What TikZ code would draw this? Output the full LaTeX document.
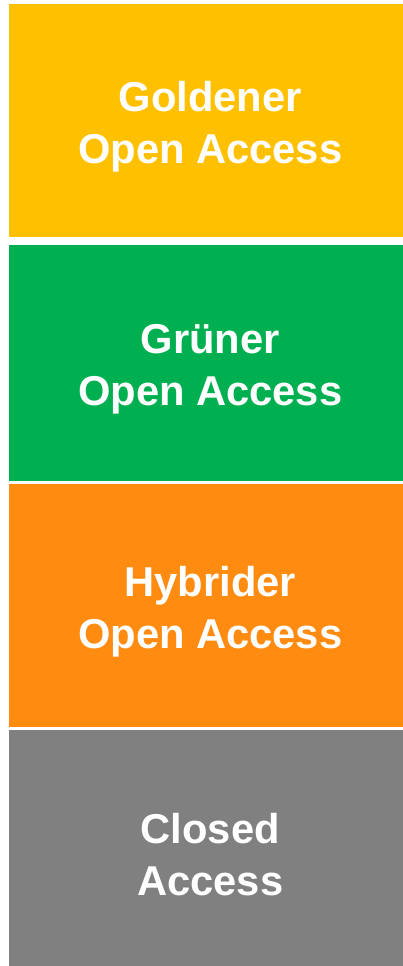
\documentclass[tikz,border=0pt]{standalone}
\usepackage{fontspec}
\setmainfont{Liberation Sans}
\definecolor{gold}{HTML}{FFC000}
\definecolor{green}{HTML}{00B050}
\definecolor{orange}{HTML}{FF8C10}
\definecolor{grey}{HTML}{808080}

\begin{document}
\begin{tikzpicture}[x=1pt,y=-1pt,
  access node/.style={rectangle,anchor=north west,inner sep=0pt,minimum width=394pt},
  label node/.style={xshift=4pt,yshift=-6pt,text=white,align=center,
    font=\bfseries\fontsize{41.7}{52}\selectfont}]

  \useasboundingbox (0,0) rectangle (403,966);

  \node[access node,fill=gold,minimum height=233pt] (gold) at (9,4) {};
  \node[access node,fill=green,minimum height=236pt] (green) at (9,245) {};
  \node[access node,fill=orange,minimum height=243pt] (hybrid) at (9,484) {};
  \node[access node,fill=grey,minimum height=236pt] (closed) at (9,730) {};

  \node[label node] (gold text) at (gold.center) {Goldener\\Open Access};
  \node[label node] (green text) at (green.center) {Grüner\\Open Access};
  \node[label node] (hybrid text) at (hybrid.center) {Hybrider\\Open Access};
  \node[label node] (closed text) at (closed.center) {Closed\\Access};

\end{tikzpicture}
\end{document}
